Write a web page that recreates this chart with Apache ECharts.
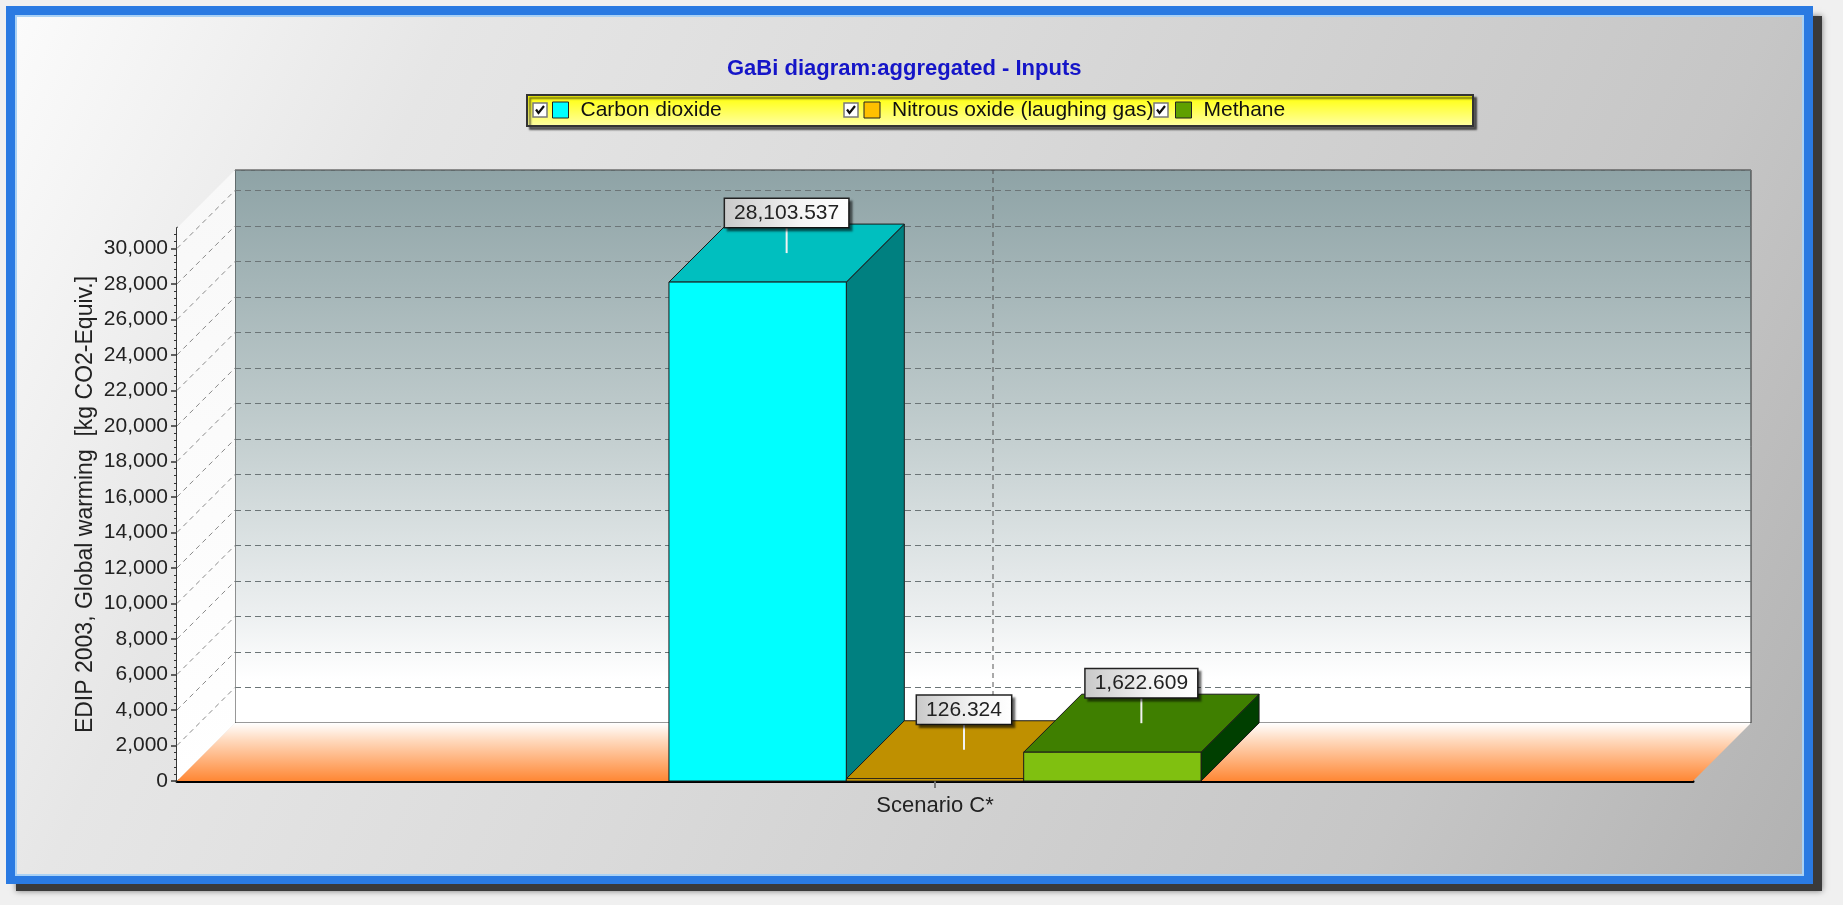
<!DOCTYPE html>
<html>
<head>
<meta charset="utf-8">
<title>GaBi diagram:aggregated - Inputs</title>
<script src="https://cdn.jsdelivr.net/npm/echarts@6/dist/echarts.min.js"></script>
<style>
    html, body { margin: 0; padding: 0; background: #f0f0f0; }
    #main { width: 1843px; height: 905px; }
</style>
</head>
<body>
<div id="main"></div>
<script>
// data
var categories = ['Scenario C*'];
var seriesNames = ['Carbon dioxide', 'Nitrous oxide (laughing gas)', 'Methane'];
var carbonDioxide = [28103.537];
var nitrousOxide = [126.324];
var methane = [1622.609];
var yTicks = [0, 2000, 4000, 6000, 8000, 10000, 12000, 14000, 16000, 18000, 20000, 22000, 24000, 26000, 28000, 30000];
var yMax = 31150;

// fake 3d settings
var DEPTH = 58;
var BAR_RATIO = 0.117;
var FONT = 'Liberation Sans';

var faceColors = [
    {front: '#00ffff', top: '#00bfbf', side: '#008080'},
    {front: '#ffc000', top: '#bf9000', side: '#806000'},
    {front: '#80c010', top: '#3f7f00', side: '#003f00'}
];

var grad = echarts.graphic.LinearGradient;

function fmtValue (v) {
    return v.toLocaleString('en-US', {minimumFractionDigits: 3, maximumFractionDigits: 3});
}

function barRenderer (idx) {
    return function (params, api) {
        var cat = api.value(0);
        var val = api.value(1);
        var base = api.coord([cat, 0]);
        var top = api.coord([cat, val]);
        var w = api.size([1, 0])[0] * BAR_RATIO;
        var x0 = base[0] - 1.5 * w + idx * w;
        var x1 = x0 + w;
        var ty = top[1];
        var by = base[1];
        var D = DEPTH;
        var c = faceColors[idx];
        var cx = x0 + w / 2 + D / 2;
        var cy = ty - D / 2;
        return {
            type: 'group',
            children: [
                {type: 'polygon', shape: {points: [[x1, ty], [x1 + D, ty - D], [x1 + D, by - D], [x1, by]]},
                    style: {fill: c.side, stroke: '#1a1a1a', lineWidth: 1}},
                {type: 'polygon', shape: {points: [[x0, ty], [x1, ty], [x1 + D, ty - D], [x0 + D, ty - D]]},
                    style: {fill: c.top, stroke: '#1a1a1a', lineWidth: 1}},
                {type: 'rect', shape: {x: x0, y: ty, width: w, height: by - ty},
                    style: {fill: c.front, stroke: '#1a1a1a', lineWidth: 1}},
                {type: 'line', z2: 20, shape: {x1: cx, y1: cy, x2: cx, y2: cy - 26},
                    style: {stroke: '#f2f2f2', lineWidth: 2}},
                {type: 'text', z2: 30, x: cx, y: cy - 26,
                    style: {
                        text: fmtValue(val),
                        fontFamily: FONT,
                        fontSize: 21,
                        fill: '#222',
                        align: 'center',
                        verticalAlign: 'bottom',
                        padding: [4, 9, 3, 9],
                        backgroundColor: new grad(0, 0, 1, 0, [
                            {offset: 0, color: '#c8c8c8'},
                            {offset: 0.6, color: '#f4f4f4'},
                            {offset: 1, color: '#ffffff'}
                        ]),
                        borderColor: '#222',
                        borderWidth: 1.5,
                        shadowColor: 'rgba(0,0,0,0.45)',
                        shadowOffsetX: 3,
                        shadowOffsetY: 3,
                        shadowBlur: 2
                    }}
            ]
        };
    };
}

function wallRenderer (params, api) {
    var cs = params.coordSys;
    var x = cs.x, y = cs.y, w = cs.width, h = cs.height, D = DEPTH;
    return {
        type: 'group',
        children: [
            {type: 'polygon', shape: {points: [[x, y], [x + D, y - D], [x + D, y + h - D], [x, y + h]]},
                style: {fill: new grad(0, 0, 0, 1, [
                    {offset: 0, color: '#f8f8f8'},
                    {offset: 1, color: '#ffffff'}
                ])}},
            {type: 'polygon', shape: {points: [[x, y + h], [x + D, y + h - D], [x + w + D, y + h - D], [x + w, y + h]]},
                style: {fill: new grad(0, 0, 0, 1, [
                    {offset: 0, color: '#ffffff'},
                    {offset: 0.3, color: '#ffd9bd'},
                    {offset: 1, color: '#ff8734'}
                ])}}
        ]
    };
}

function sideGridRenderer (params, api) {
    var p = api.coord([0, api.value(1)]);
    var x = params.coordSys.x;
    return {
        type: 'line',
        shape: {x1: x, y1: p[1], x2: x + DEPTH, y2: p[1] - DEPTH},
        style: {stroke: '#8a8a8a', lineWidth: 1, lineDash: [5, 4]}
    };
}

function backLineRenderer (params, api) {
    var b = api.coord([api.value(0), 0]);
    var t = api.coord([api.value(0), yMax]);
    return {
        type: 'line',
        shape: {x1: b[0], y1: b[1], x2: t[0], y2: t[1]},
        style: {stroke: '#555', lineWidth: 1, lineDash: [5, 4]}
    };
}

function checkbox (x, y) {
    return {
        type: 'group', z: -40,
        children: [
            {type: 'rect', shape: {x: x, y: y, width: 14, height: 14},
                style: {fill: '#ffffff', stroke: '#7a7a7a', lineWidth: 1.5}},
            {type: 'polyline', shape: {points: [[x + 3, y + 6.5], [x + 5.5, y + 10], [x + 11, y + 3]]},
                style: {stroke: '#111', lineWidth: 2.2, fill: null}}
        ]
    };
}

var chart = echarts.init(document.getElementById('main'));
var option = {
    backgroundColor: '#f0f0f0',
    animation: false,
    title: {
        text: 'GaBi diagram:aggregated - Inputs',
        left: 727,
        top: 58,
        padding: 0,
        textStyle: {color: '#1515c8', fontSize: 22, fontWeight: 'bold', fontFamily: FONT}
    },
    legend: {
        data: seriesNames,
        left: 552,
        top: 98,
        padding: 0,
        itemWidth: 16,
        itemHeight: 16,
        itemGap: 13,
        icon: 'rect',
        selectedMode: false,
        itemStyle: {borderColor: '#222', borderWidth: 1},
        textStyle: {fontFamily: FONT, fontSize: 21, color: '#111', width: 270, lineHeight: 24, padding: [0, 0, 0, 7]}
    },
    graphic: [
        {type: 'rect', z: -100, shape: {x: 16, y: 16, width: 1806, height: 875},
            style: {fill: '#3a3a3a', shadowBlur: 6, shadowColor: 'rgba(0,0,0,0.5)'}},
        {type: 'rect', z: -99, shape: {x: 6, y: 6, width: 1807, height: 878}, style: {fill: '#2a7ae2'}},
        {type: 'rect', z: -98, shape: {x: 15, y: 15, width: 1789, height: 861}, style: {fill: '#a9d1f5'}},
        {type: 'rect', z: -97, shape: {x: 17, y: 17, width: 1785, height: 857},
            style: {fill: new grad(0, 0, 1, 1, [
                {offset: 0, color: '#fbfbfb'},
                {offset: 0.2, color: '#e6e6e6'},
                {offset: 0.45, color: '#dadada'},
                {offset: 0.8, color: '#c6c6c6'},
                {offset: 1, color: '#b2b2b2'}
            ])}},
        {type: 'rect', z: -50, shape: {x: 527, y: 95, width: 946, height: 31},
            style: {
                fill: new grad(0, 0, 0, 1, [
                    {offset: 0, color: '#ffff00'},
                    {offset: 1, color: '#ffffa8'}
                ]),
                stroke: '#333', lineWidth: 2,
                shadowColor: 'rgba(0,0,0,0.55)', shadowOffsetX: 3, shadowOffsetY: 3, shadowBlur: 2
            }},
        checkbox(533, 103),
        checkbox(844, 103),
        checkbox(1154, 103)
    ],
    grid: [
        {left: 177, right: 150, top: 228, bottom: 124},
        {left: 177 + DEPTH, right: 150 - DEPTH, top: 228 - DEPTH, bottom: 124 + DEPTH,
            show: true, borderColor: '#333', borderWidth: 1,
            backgroundColor: new grad(0, 0, 0, 1, [
                {offset: 0, color: '#8ea3a6'},
                {offset: 0.45, color: '#bfcbcc'},
                {offset: 0.8, color: '#eceff0'},
                {offset: 0.92, color: '#ffffff'},
                {offset: 1, color: '#ffffff'}
            ])}
    ],
    xAxis: [
        {
            type: 'category', gridIndex: 0, data: categories,
            axisLine: {lineStyle: {color: '#000', width: 3}},
            axisTick: {show: true, alignWithLabel: true, length: 7, lineStyle: {color: '#777', width: 2}},
            axisLabel: {fontFamily: FONT, fontSize: 22, color: '#222', margin: 14},
            splitLine: {show: false}
        },
        {
            type: 'category', gridIndex: 1, data: categories,
            axisLine: {show: false}, axisTick: {show: false}, axisLabel: {show: false}, splitLine: {show: false}
        }
    ],
    yAxis: [
        {
            type: 'value', gridIndex: 0, min: 0, max: yMax, interval: 2000,
            name: 'EDIP 2003, Global warming  [kg CO2-Equiv.]',
            nameLocation: 'middle',
            nameRotate: 90,
            nameGap: 80,
            nameMoveOverlap: false,
            nameTextStyle: {fontFamily: FONT, fontSize: 23, color: '#222'},
            axisLine: {show: true, lineStyle: {color: '#000', width: 2.5}},
            axisTick: {show: true, length: 6, customValues: yTicks, lineStyle: {color: '#333', width: 1.5}},
            minorTick: {show: true, splitNumber: 5, length: 3, lineStyle: {color: '#333'}},
            axisLabel: {
                customValues: yTicks,
                fontFamily: FONT, fontSize: 21, color: '#222', margin: 9,
                formatter: function (v) { return v.toLocaleString('en-US'); }
            },
            splitLine: {show: false}
        },
        {
            type: 'value', gridIndex: 1, min: 0, max: yMax, interval: 2000,
            axisLine: {show: false}, axisTick: {show: false}, axisLabel: {show: false},
            splitLine: {show: true, lineStyle: {color: '#6c7577', width: 1, type: [6, 4]}}
        }
    ],
    series: [
        {
            name: 'backLine', type: 'custom', xAxisIndex: 1, yAxisIndex: 1, z: 1, silent: true,
            renderItem: backLineRenderer,
            data: categories.map(function (c, i) { return [i]; })
        },
        {
            name: 'walls', type: 'custom', xAxisIndex: 0, yAxisIndex: 0, z: 1, silent: true,
            renderItem: wallRenderer,
            data: [[0, 0]]
        },
        {
            name: 'sideGrid', type: 'custom', xAxisIndex: 0, yAxisIndex: 0, z: 1, silent: true,
            renderItem: sideGridRenderer,
            data: yTicks.slice(1).map(function (v) { return [0, v]; })
        },
        {
            name: seriesNames[0], type: 'custom', z: 3,
            itemStyle: {color: faceColors[0].front},
            renderItem: barRenderer(0),
            data: carbonDioxide.map(function (v, i) { return [i, v]; })
        },
        {
            name: seriesNames[1], type: 'custom', z: 3,
            itemStyle: {color: faceColors[1].front},
            renderItem: barRenderer(1),
            data: nitrousOxide.map(function (v, i) { return [i, v]; })
        },
        {
            name: seriesNames[2], type: 'custom', z: 3,
            itemStyle: {color: '#5fa000'},
            renderItem: barRenderer(2),
            data: methane.map(function (v, i) { return [i, v]; })
        }
    ]
};
chart.setOption(option);
window.addEventListener('resize', function () {
    chart.resize();
});
</script>
</body>
</html>
